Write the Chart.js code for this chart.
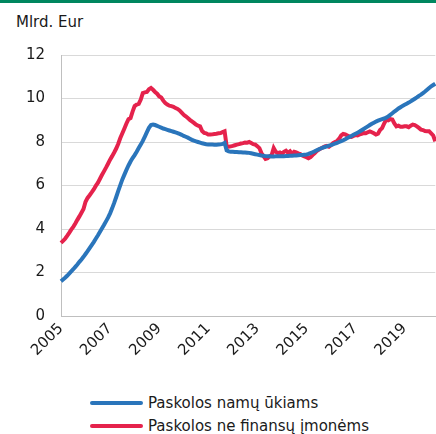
<!DOCTYPE html>
<html>
<head>
<meta charset="utf-8">
<script src="https://cdn.jsdelivr.net/npm/chart.js@4.4.1/dist/chart.umd.min.js"></script>
<style>
  body { margin: 0; background: #fff; font-family: "DejaVu Sans", Verdana, sans-serif; }
  #wrap { position: relative; width: 436px; height: 434px; overflow: hidden; border-top: 3px solid #00875f; box-sizing: border-box; }
  #unit { position: absolute; left: 16px; top: 10px; font-size: 15px; color: #1a1a1a; }
  #box { position: absolute; left: 0; top: -3px; width: 452px; height: 380px; }
  .leg { position: absolute; left: 90px; font-size: 15px; color: #1a1a1a; display: flex; align-items: center; }
  .leg i { display: inline-block; width: 53px; height: 4px; border-radius: 2px; margin-right: 5px; }
</style>
</head>
<body>
<div id="wrap">
  <div id="unit">Mlrd. Eur</div>
  <div id="box"><canvas id="chart" width="452" height="380"></canvas></div>
  <div class="leg" style="top:391px"><i style="background:#2a75bb"></i>Paskolos namų ūkiams</div>
  <div class="leg" style="top:414px"><i style="background:#e5224c"></i>Paskolos ne finansų įmonėms</div>
</div>
<script>
// monthly, Jan 2005 - Apr 2020
const startYear = 2005;
const yTicks = [0, 2, 4, 6, 8, 10, 12];

const households = [
  1.60, 1.68, 1.76, 1.85, 1.95, 2.05, 2.15, 2.26, 2.37, 2.49, 2.60, 2.72,
  2.85, 2.98, 3.12, 3.26, 3.40, 3.55, 3.70, 3.86, 4.02, 4.18, 4.35, 4.52,
  4.72, 4.95, 5.20, 5.47, 5.75, 6.02, 6.28, 6.50, 6.72, 6.92, 7.10, 7.26,
  7.40, 7.55, 7.72, 7.88, 8.05, 8.25, 8.45, 8.65, 8.78, 8.80, 8.78, 8.74,
  8.70, 8.66, 8.62, 8.59, 8.56, 8.53, 8.50, 8.47, 8.44, 8.41, 8.37, 8.33,
  8.28, 8.24, 8.20, 8.15, 8.10, 8.06, 8.03, 8.00, 7.97, 7.94, 7.92, 7.90,
  7.89, 7.88, 7.88, 7.87, 7.87, 7.88, 7.89, 7.91, 7.96, 7.62, 7.57, 7.55,
  7.55, 7.54, 7.54, 7.53, 7.53, 7.52, 7.52, 7.51, 7.50, 7.48, 7.46, 7.44,
  7.42, 7.40, 7.38, 7.37, 7.35, 7.34, 7.34, 7.33, 7.33, 7.34, 7.34, 7.35,
  7.35, 7.35, 7.36, 7.36, 7.37, 7.37, 7.38, 7.38, 7.39, 7.40, 7.40, 7.41,
  7.42, 7.45, 7.49, 7.53, 7.57, 7.62, 7.66, 7.70, 7.74, 7.77, 7.80, 7.83,
  7.86, 7.89, 7.93, 7.96, 8.00, 8.04, 8.08, 8.13, 8.18, 8.23, 8.28, 8.33,
  8.38, 8.43, 8.48, 8.54, 8.60, 8.66, 8.72, 8.78, 8.84, 8.89, 8.94, 8.98,
  9.02, 9.05, 9.08, 9.12, 9.18, 9.25, 9.32, 9.40, 9.47, 9.54, 9.60, 9.66,
  9.71, 9.76, 9.81, 9.87, 9.93, 9.99, 10.05, 10.12, 10.18, 10.25, 10.32, 10.40,
  10.48, 10.56, 10.62, 10.68
];

const companies = [
  3.36, 3.45, 3.55, 3.68, 3.82, 3.97, 4.10, 4.25, 4.42, 4.58, 4.75, 4.92,
  5.25, 5.43, 5.55, 5.68, 5.82, 5.98, 6.12, 6.30, 6.48, 6.65, 6.82, 7.00,
  7.19, 7.35, 7.52, 7.70, 7.92, 8.18, 8.40, 8.62, 8.85, 9.05, 9.10, 9.40,
  9.65, 9.72, 9.75, 9.95, 10.25, 10.28, 10.30, 10.42, 10.48, 10.40, 10.30, 10.22,
  10.10, 10.05, 9.90, 9.79, 9.72, 9.67, 9.65, 9.62, 9.56, 9.52, 9.45, 9.35,
  9.25, 9.18, 9.10, 9.02, 8.95, 8.88, 8.80, 8.75, 8.72, 8.50, 8.42, 8.40,
  8.34, 8.34, 8.35, 8.37, 8.38, 8.40, 8.41, 8.45, 8.49, 7.80, 7.78, 7.80,
  7.82, 7.85, 7.88, 7.90, 7.93, 7.95, 7.98, 7.97, 8.00, 7.95, 7.90, 7.88,
  7.80, 7.72, 7.49, 7.35, 7.22, 7.25, 7.34, 7.40, 7.72, 7.55, 7.49, 7.52,
  7.45, 7.55, 7.60, 7.50, 7.57, 7.45, 7.55, 7.52, 7.48, 7.45, 7.38, 7.34,
  7.30, 7.25, 7.30, 7.40, 7.48, 7.58, 7.65, 7.70, 7.75, 7.80, 7.82, 7.78,
  7.85, 7.95, 8.00, 8.05, 8.15, 8.30, 8.37, 8.35, 8.30, 8.25, 8.23, 8.28,
  8.32, 8.30, 8.35, 8.38, 8.41, 8.40, 8.45, 8.49, 8.45, 8.40, 8.34, 8.38,
  8.55, 8.64, 8.85, 9.03, 9.00, 9.05, 9.03, 8.85, 8.72, 8.75, 8.70, 8.70,
  8.72, 8.72, 8.68, 8.75, 8.80, 8.78, 8.72, 8.65, 8.57, 8.55, 8.50, 8.49,
  8.49, 8.40, 8.30, 8.03
];

// labels like 2005-01
const labels = households.map((_, i) => {
  const y = startYear + Math.floor(i / 12);
  const m = (i % 12) + 1;
  return y + "-" + (m < 10 ? "0" + m : m);
});

// the plot runs to the window edge, so the canvas is wider and clipped
const ctx = document.getElementById("chart").getContext("2d");
new Chart(ctx, {
  type: "line",
  data: {
    labels: labels,
    datasets: [
      { label: "Paskolos namų ūkiams", data: households, borderColor: "#2a75bb", borderWidth: 4, pointRadius: 0, tension: 0 },
      { label: "Paskolos ne finansų įmonėms", data: companies, borderColor: "#e5224c", borderWidth: 4, pointRadius: 0, tension: 0 }
    ]
  },
  options: {
    responsive: false,
    animation: false,
    maintainAspectRatio: false,
    layout: { padding: { top: 55, left: 0, right: 0, bottom: 0 } },
    plugins: { legend: { display: false }, tooltip: { enabled: false } },
    scales: {
      x: {
        grid: { display: false, drawTicks: false },
        border: { color: "#bfbfbf", width: 1 },
        ticks: {
          autoSkip: false,
          minRotation: 45,
          maxRotation: 45,
          padding: 4,
          color: "#1a1a1a",
          font: { family: "DejaVu Sans", size: 15 },
          callback: function (val, i) {
            const lab = labels[i];
            const y = +lab.slice(0, 4);
            return lab.endsWith("-01") && (y - startYear) % 2 === 0 ? String(y) : "";
          }
        },
        afterFit: (s) => { s.height = 64; }
      },
      y: {
        min: yTicks[0],
        max: yTicks[yTicks.length - 1],
        afterBuildTicks: (s) => { s.ticks = yTicks.map((v) => ({ value: v })); },
        grid: { color: "#d9d9d9", drawTicks: false },
        border: { color: "#bfbfbf", width: 1 },
        ticks: { padding: 16, color: "#1a1a1a", font: { family: "DejaVu Sans", size: 15 } },
        afterFit: (s) => { s.width = 61; }
      }
    }
  }
});
</script>
</body>
</html>
